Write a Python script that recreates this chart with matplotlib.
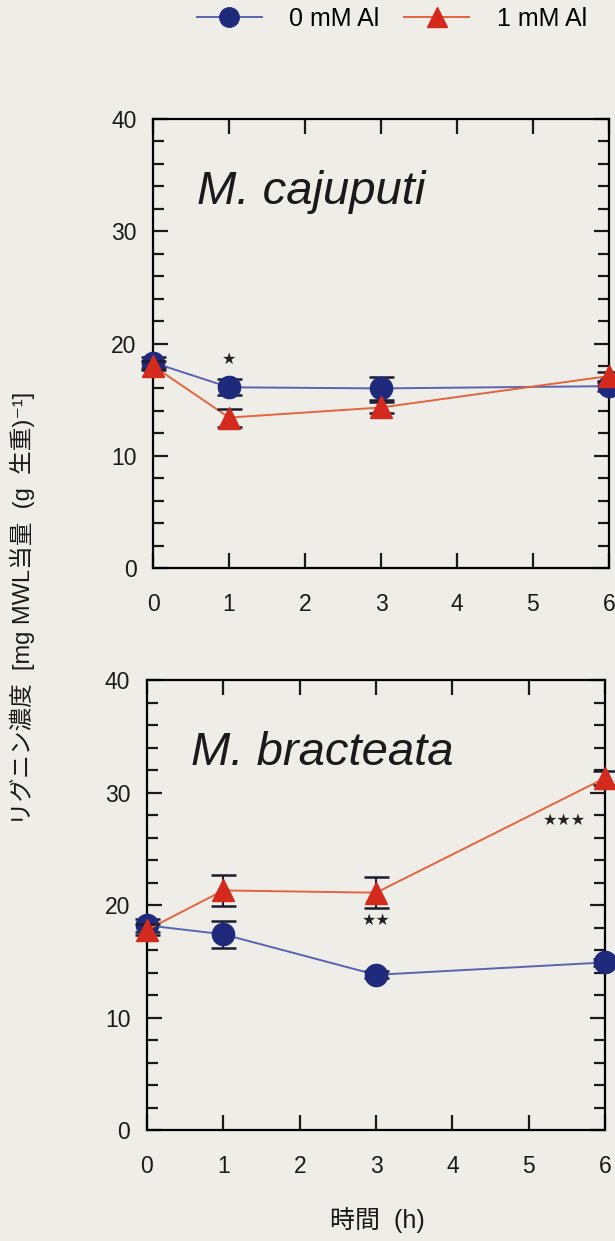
import numpy as np
import matplotlib
matplotlib.use('Agg')
import matplotlib.pyplot as plt
from matplotlib.lines import Line2D
from matplotlib.ticker import MultipleLocator

###############################################################################
# Data
###############################################################################
hours = [0, 1, 3, 6]

# M. cajuputi
caj_0mM     = [18.3, 16.1, 16.0, 16.2]
caj_0mM_err = [0.5, 0.7, 1.0, 0.4]
caj_1mM     = [18.0, 13.4, 14.3, 17.1]
caj_1mM_err = [0.4, 0.8, 0.5, 0.4]

# M. bracteata
bra_0mM     = [18.2, 17.4, 13.8, 14.9]
bra_0mM_err = [0.6, 1.2, 0.3, 0.3]
bra_1mM     = [17.8, 21.3, 21.1, 31.3]
bra_1mM_err = [0.5, 1.4, 1.4, 0.6]

species    = ['M. cajuputi', 'M. bracteata']
legend_lab = ['0 mM Al', '1 mM Al']
xticks     = [0, 1, 2, 3, 4, 5, 6]
yticks     = [0, 10, 20, 30, 40]

# significance marks: (x, y, text)
caj_marks = [(1, 18.6, '★')]
bra_marks = [(3, 18.6, '★★'), (5.47, 27.5, '★★★')]

###############################################################################
# Styles
###############################################################################
bg        = '#eeede8'
navy      = '#202a7c'
navy_line = '#5a63ad'
red       = '#d42a1e'
red_line  = '#e4643e'
latin     = ['Liberation Sans', 'DejaVu Sans']
mixed     = ['Liberation Sans', 'Noto Sans CJK JP', 'DejaVu Sans']

plt.rcParams['font.family'] = latin
plt.rcParams['axes.linewidth'] = 1.6

fig = plt.figure(figsize=(6.15, 12.41), dpi=100, facecolor=bg)
ax1 = fig.add_axes([0.249, 0.5423, 0.741, 0.3618])
ax2 = fig.add_axes([0.239, 0.0894, 0.745, 0.3626])


def draw_panel(ax, y0, e0, y1, e1, name, marks):
    ax.set_facecolor(bg)
    ax.plot(hours, y0, color=navy_line, lw=1.4, zorder=2, clip_on=False)
    ax.errorbar(hours, y0, yerr=e0, fmt='o', ms=16, mfc=navy, mec=navy,
                ecolor='#1c1c30', elinewidth=1.5, capsize=9, capthick=1.8,
                zorder=3, clip_on=False)
    ax.plot(hours, y1, color=red_line, lw=1.4, zorder=4, clip_on=False)
    ax.errorbar(hours, y1, yerr=e1, fmt='^', ms=16, mfc=red, mec=red,
                ecolor='#1c1c30', elinewidth=1.5, capsize=9, capthick=1.8,
                zorder=5, clip_on=False)
    for x, y, t in marks:
        ax.text(x, y, t, ha='center', va='center', fontsize=11.5,
                family='DejaVu Sans', color='#222222')
    ax.text(0.58, 33.5, name, fontsize=34, style='italic', va='center',
            ha='left', color='#1a1a1a')
    ax.set_xlim(0, 6)
    ax.set_ylim(0, 40)
    ax.set_xticks(xticks)
    ax.set_yticks(yticks)
    ax.yaxis.set_minor_locator(MultipleLocator(2))
    ax.tick_params(which='both', direction='in', top=True, right=True,
                   width=1.6, labelsize=16.5, colors='#1a1a1a')
    ax.tick_params(which='major', length=11)
    ax.tick_params(which='minor', length=8)
    ax.tick_params(axis='x', pad=18)
    ax.tick_params(axis='y', pad=12)


draw_panel(ax1, caj_0mM, caj_0mM_err, caj_1mM, caj_1mM_err, species[0], caj_marks)
draw_panel(ax2, bra_0mM, bra_0mM_err, bra_1mM, bra_1mM_err, species[1], bra_marks)

# legend at the top
handles = [Line2D([], [], color=navy_line, lw=1.4, marker='o', ms=14,
                  mfc=navy, mec=navy),
           Line2D([], [], color=red_line, lw=1.4, marker='^', ms=14,
                  mfc=red, mec=red)]
fig.legend(handles, legend_lab, loc='center', bbox_to_anchor=(0.637, 0.985),
           ncol=2, frameon=False, fontsize=18, handlelength=2.6,
           handletextpad=1.1, columnspacing=1.0)

fig.text(0.037, 0.51, 'リグニン濃度  [mg MWL当量  (g  生重)⁻¹]', rotation=90,
         ha='center', va='center', fontsize=17, family=mixed, color='#1a1a1a')
fig.text(0.613, 0.017, '時間  (h)', ha='center', va='center', fontsize=18,
         family=mixed, color='#1a1a1a')

fig.savefig('out.png', dpi=100, facecolor=bg)
